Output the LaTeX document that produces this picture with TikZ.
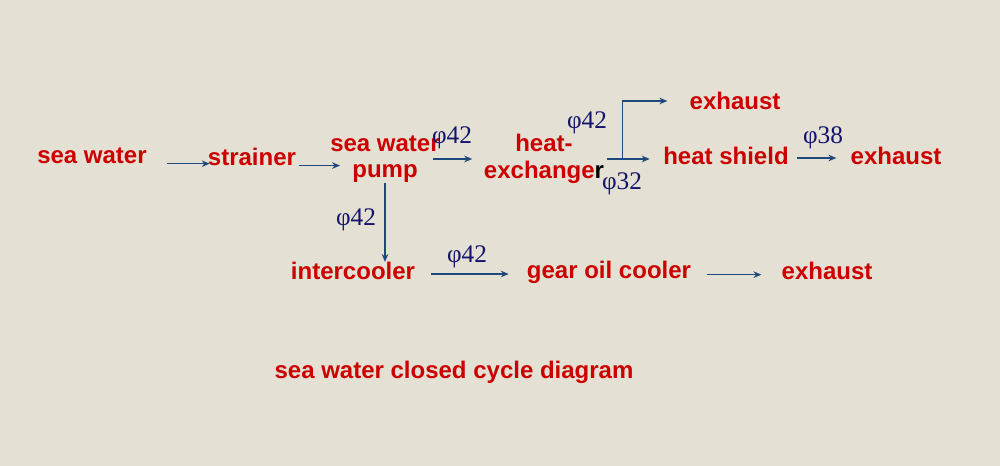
\documentclass[tikz,border=0pt]{standalone}
\usepackage{fontspec}
\setmainfont{Liberation Sans}
\newfontfamily\phifont{Liberation Serif}
\usetikzlibrary{arrows.meta}
\definecolor{sand}{RGB}{228,224,211}
\definecolor{brick}{RGB}{204,0,0}
\definecolor{pipeblue}{RGB}{31,73,125}
\definecolor{inkblue}{RGB}{20,20,110}

\begin{document}
\begin{tikzpicture}[x=0.75pt,y=-0.75pt,
      part/.style={text=brick,font=\fontsize{18}{20}\selectfont\bfseries,inner sep=0pt,align=center},
      dia/.style={text=inkblue,font=\fontsize{19}{20}\selectfont\phifont,inner sep=0pt},
      pipe/.style={draw=pipeblue,line width=1pt,-{Stealth[length=6pt,width=5pt]}}]
   \fill[sand] (0,0) rectangle (1000,466);
   \useasboundingbox (0,0) rectangle (1000,466);
   % units
   \node[part] (sw) at (92,156) {sea water};
   \node[part] (str) at (252,157) {strainer};
   \node[part] (pump) at (385,159) {sea water\\pump};
   \node[part] (hex) at (544,159) {heat-\\exchange{\color{black}r}};
   \node[part] (ex1) at (735,101) {exhaust};
   \node[part] (hs) at (726,156) {heat shield};
   \node[part] (ex2) at (896,156) {exhaust};
   \node[part] (ic) at (353,271) {intercooler};
   \node[part] (goc) at (609,272) {gear oil cooler};
   \node[part] (ex3) at (827,271) {exhaust};
   \node[part] (title) at (454,372) {sea water closed cycle diagram};
   % pipes
   \draw[pipe,shorten <=15pt,shorten >=-1.5pt] (sw.base east) -- (sw.base east -| str.west);
   \draw[pipe,shorten <=2pt,shorten >=-7.5pt] (str.base east) -- (str.base east -| pump.west);
   \draw[pipe,shorten <=-5.6pt,shorten >=8.6pt] (pump.east) -- (pump.east -| hex.west);
   \draw[pipe,shorten <=2pt,shorten >=10pt] (hex.east) -- (hex.east -| hs.west);
   \draw[pipe,shorten >=16.5pt] ([xshift=13.5pt]hex.east) |- (ex1.west);
   \draw[pipe,shorten <=6pt,shorten >=10.5pt] ([yshift=-1.5pt]hs.east) -- ([yshift=-1.5pt]hs.east -| ex2.west);
   \draw[pipe] (pump.south) -- (pump.south |- ic.north);
   \draw[pipe,shorten <=12pt,shorten >=13.5pt] ([yshift=-2.25pt]ic.east) -- ([yshift=-2.25pt]ic.east -| goc.west);
   \draw[pipe,shorten <=12pt,shorten >=15pt] ([yshift=-2pt]goc.east) -- ([yshift=-2pt]goc.east -| ex3.west);
   % pipe sizes
   \node[dia] (d1) at (452,138) {φ42};
   \node[dia] (d2) at (587,123) {φ42};
   \node[dia] (d3) at (622,184) {φ32};
   \node[dia] (d4) at (823,138) {φ38};
   \node[dia] (d5) at (356,220) {φ42};
   \node[dia] (d6) at (467,257) {φ42};
\end{tikzpicture}
\end{document}
